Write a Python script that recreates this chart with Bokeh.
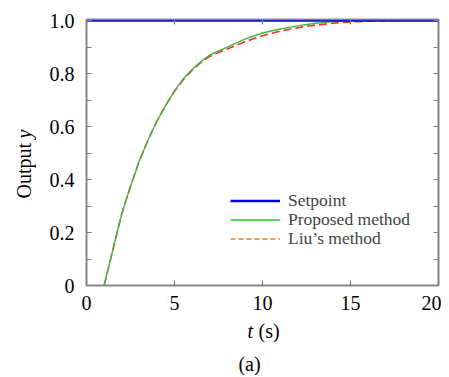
from bokeh.plotting import figure
from bokeh.layouts import column, row
from bokeh.models import (Range1d, LinearAxis, FixedTicker, NumeralTickFormatter, Legend, LegendItem)
from bokeh.core.properties import value
from bokeh.embed import file_html
from bokeh.resources import INLINE
import math

# ---- data ----
setpoint_t = [0, 20]
setpoint_y = [1.0, 1.0]

proposed_t = [1.0, 1.5, 2.0, 2.5, 3.0, 3.5, 4.0, 4.5, 5.0, 5.5, 6.0, 6.5, 7.0, 8.0, 9.0, 10.0, 11.0, 12.0, 13.0, 14.0, 15.0, 17.5, 20.0]
proposed_y = [0.0, 0.135, 0.27, 0.375, 0.47, 0.55, 0.62, 0.68, 0.735, 0.78, 0.815, 0.845, 0.87, 0.90, 0.93, 0.953, 0.968, 0.98, 0.99, 0.996, 1.0, 1.0, 1.0]

liu_t = [1.0, 1.5, 2.0, 2.5, 3.0, 3.5, 4.0, 4.5, 5.0, 5.5, 6.0, 6.5, 7.0, 8.0, 9.0, 10.0, 11.0, 12.0, 13.0, 14.0, 15.0, 16.0, 17.5]
liu_y = [0.0, 0.135, 0.27, 0.375, 0.47, 0.55, 0.62, 0.68, 0.733, 0.777, 0.812, 0.842, 0.865, 0.893, 0.92, 0.943, 0.96, 0.973, 0.983, 0.99, 0.995, 0.998, 1.0]

x_ticks = [0, 5, 10, 15, 20]
y_ticks = [0, 0.2, 0.4, 0.6, 0.8, 1.0]
y_minor_ticks = [0, 0.1, 0.2, 0.3, 0.4, 0.5, 0.6, 0.7, 0.8, 0.9, 1.0]

series_labels = ["Setpoint", "Proposed method", "Liu\u2019s method"]
x_label_parts = ["t", "(s)"]
y_label_parts = ["Output", "y"]
caption = "(a)"

FONT = "Liberation Serif"
AX = "#808080"

H_MAIN = 319
W_LEFT = 36
W_MAIN = 405
FRAME_TOP = 19
FRAME_BOTTOM = 285

p = figure(width=W_MAIN, height=H_MAIN, x_range=Range1d(0, 20), y_range=Range1d(0, 1.004),
           output_backend="svg", toolbar_location=None,
           min_border_left=50, min_border_right=3, min_border_top=FRAME_TOP,
           min_border_bottom=H_MAIN - FRAME_BOTTOM,
           x_axis_location=None, y_axis_location=None)
p.grid.visible = False
p.outline_line_color = AX
p.outline_line_width = 1.5
p.background_fill_color = "white"
p.border_fill_color = "white"

def mk_axis(ticker):
    ax = LinearAxis(ticker=ticker)
    ax.axis_line_color = AX
    ax.axis_line_width = 1.5
    ax.major_tick_line_color = AX
    ax.minor_tick_line_color = AX
    ax.major_tick_line_width = 1.2
    ax.minor_tick_line_width = 1.2
    ax.major_tick_in = 5
    ax.major_tick_out = 0
    ax.minor_tick_in = 5
    ax.minor_tick_out = 0
    ax.major_label_text_font = FONT
    ax.major_label_text_font_size = "20px"
    ax.major_label_text_color = "black"
    return ax

xb = mk_axis(FixedTicker(ticks=x_ticks, minor_ticks=[]))
xb.major_label_standoff = 10
p.add_layout(xb, "below")
p.add_layout(mk_axis(FixedTicker(ticks=[], minor_ticks=x_ticks)), "above")
yl = mk_axis(FixedTicker(ticks=y_ticks, minor_ticks=y_minor_ticks))
yl.formatter = NumeralTickFormatter(format="0.0")
yl.major_label_overrides = {0: "0"}
yl.major_label_standoff = 12
p.add_layout(yl, "left")
p.add_layout(mk_axis(FixedTicker(ticks=[], minor_ticks=y_minor_ticks)), "right")

r_liu = p.line(liu_t, liu_y, line_color="#ff2a2a", line_width=1.6, line_dash="8 4")
r_prop = p.line(proposed_t, proposed_y, line_color="#3cb93c", line_width=1.4)
r_set = p.line(setpoint_t, setpoint_y, line_color="#0000ff", line_width=2.6)
r_liu_leg = p.line([float("nan")], [float("nan")], line_color="#ff7f27", line_width=1.6, line_dash="5 3")
r_prop_leg = p.line([float("nan")], [float("nan")], line_color="#22cc22", line_width=1.6)

# one single-entry legend per row, so the row pitch matches the reference
legend_rows = [(series_labels[0], r_set, 74), (series_labels[1], r_prop_leg, 55), (series_labels[2], r_liu_leg, 36)]
for lbl, rend, ly in legend_rows:
    lg = Legend(items=[LegendItem(label=lbl, renderers=[rend])],
                location=(144, ly), orientation="vertical",
                background_fill_alpha=0, border_line_color=None,
                padding=0, margin=0, spacing=0,
                glyph_width=50, glyph_height=17, label_height=17,
                label_standoff=8, label_text_font=FONT, label_text_font_size="17.5px",
                label_text_baseline="middle")
    p.add_layout(lg, "center")

def text_fig(w, h, xr, yr):
    f = figure(width=w, height=h, x_range=xr, y_range=yr,
               output_backend="svg", toolbar_location=None,
               min_border=0, x_axis_location=None, y_axis_location=None)
    f.grid.visible = False
    f.outline_line_color = None
    f.background_fill_color = "white"
    f.border_fill_color = "white"
    return f

# left panel: y-axis title (its frame is aligned with the main frame, data = page pixels)
lf = text_fig(W_LEFT, H_MAIN, Range1d(0, W_LEFT), Range1d(FRAME_BOTTOM, FRAME_TOP))
lf.text(x=[23.5], y=[198], text=[y_label_parts[0]], angle=math.pi / 2,
        text_font=value(FONT), text_font_size="20px", text_color="black",
        text_align="left", text_baseline="middle")
lf.text(x=[23.5], y=[138], text=[y_label_parts[1]], angle=math.pi / 2,
        text_font=value(FONT), text_font_size="20px", text_color="black",
        text_font_style="italic", text_align="left", text_baseline="middle")

# bottom panel: x-axis title and caption
H_BOT = 56
bf = text_fig(W_LEFT + W_MAIN, H_BOT, Range1d(0, W_LEFT + W_MAIN), Range1d(H_MAIN + H_BOT, H_MAIN))
bf.text(x=[247], y=[330], text=[x_label_parts[0]],
        text_font=value(FONT), text_font_size="20px", text_color="black",
        text_font_style="italic", text_align="left", text_baseline="middle")
bf.text(x=[258], y=[330], text=[x_label_parts[1]],
        text_font=value(FONT), text_font_size="20px", text_color="black",
        text_align="left", text_baseline="middle")
bf.text(x=[249], y=[363], text=[caption],
        text_font=value(FONT), text_font_size="20px", text_color="black",
        text_align="center", text_baseline="middle")

layout = column(row(lf, p), bf)
open("out.html", "w").write(file_html(layout, INLINE))
